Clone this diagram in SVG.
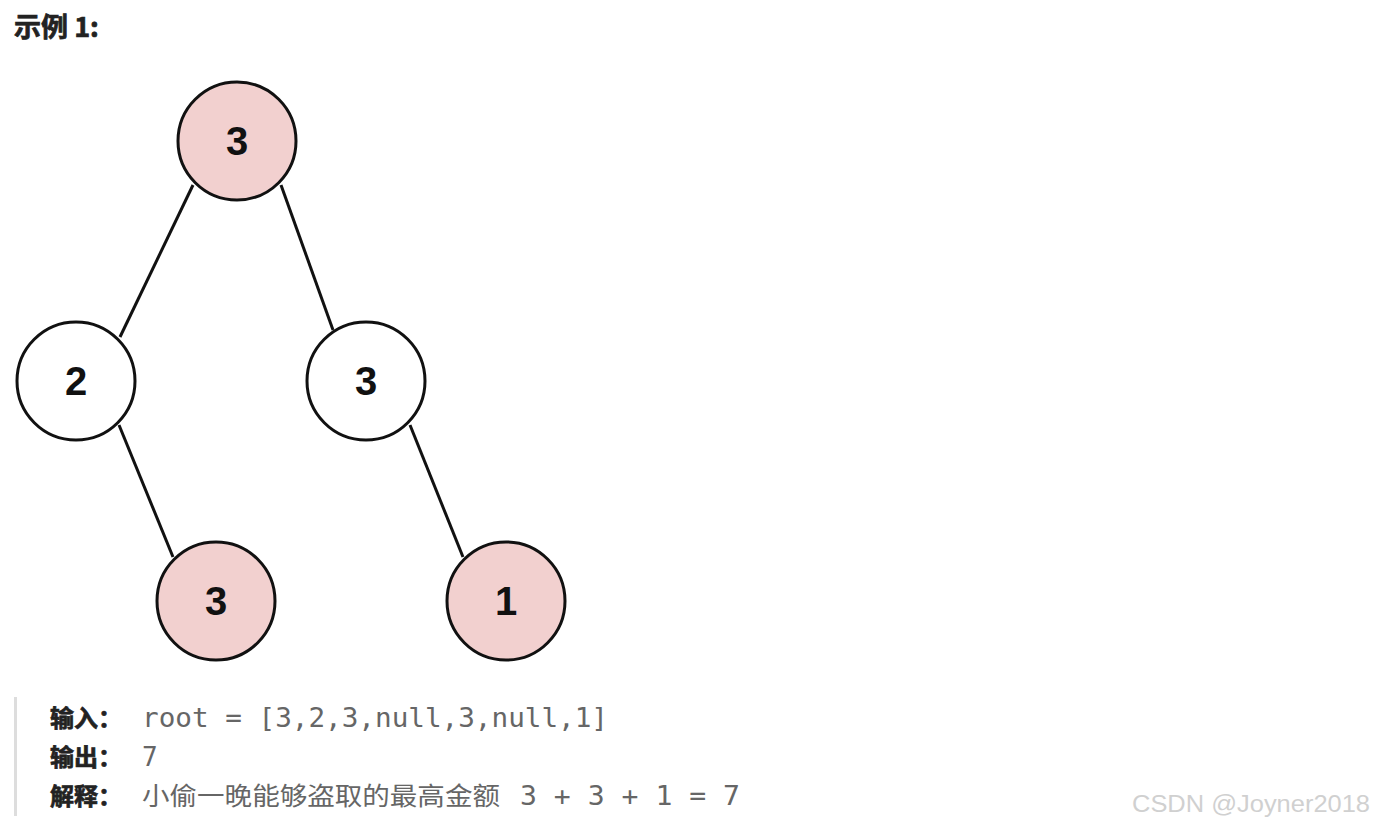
<svg xmlns="http://www.w3.org/2000/svg" width="1374" height="830" viewBox="0 0 1374 830">
<style>
.node circle{stroke:#111;stroke-width:3}
.pink{fill:#f2d0cf}
.white{fill:#fff}
.node text{font-family:"Liberation Sans",Arial,sans-serif;font-weight:bold;font-size:40px;fill:#111;text-anchor:middle}
.edge{stroke:#111;stroke-width:3;fill:none}
.lbl{font-family:"Noto Sans CJK SC",sans-serif;font-weight:bold;font-size:24px;fill:#222;stroke:#222;stroke-width:0.7}
.mono{font-family:"DejaVu Sans Mono","Liberation Mono","Noto Sans CJK SC",monospace;font-size:26px;fill:#666}
.cjk{font-family:"Noto Sans CJK SC",sans-serif;font-size:25px;fill:#666}
</style>
<rect width="1374" height="830" fill="#fff"/>
<text x="14" y="37" class="lbl" style="font-size:27px">示例 1:</text>
<g id="connectors">
<line class="edge" x1="193" y1="185" x2="120" y2="337"/>
<line class="edge" x1="281" y1="185" x2="333" y2="330"/>
<line class="edge" x1="119" y1="425" x2="173" y2="557"/>
<line class="edge" x1="410" y1="425" x2="463" y2="557"/>
</g>
<g id="n_root" class="node"><circle class="pink" cx="237" cy="141" r="59"/><text x="237" y="155">3</text></g>
<g id="n_2" class="node"><circle class="white" cx="76" cy="381" r="59"/><text x="76" y="395">2</text></g>
<g id="n_3r" class="node"><circle class="white" cx="366" cy="381" r="59"/><text x="366" y="395">3</text></g>
<g id="n_3b" class="node"><circle class="pink" cx="216" cy="601" r="59"/><text x="216" y="615">3</text></g>
<g id="n_1" class="node"><circle class="pink" cx="506" cy="601" r="59"/><text x="506" y="615">1</text></g>
<rect x="14" y="697" width="3" height="119" fill="#ddd"/>
<text x="50" y="727" class="lbl">输入：</text>
<text x="142" y="727" class="mono" textLength="466" lengthAdjust="spacingAndGlyphs">root = [3,2,3,null,3,null,1]</text>
<text x="50" y="766" class="lbl">输出：</text>
<text x="142" y="766" class="mono">7</text>
<text x="50" y="805" class="lbl">解释：</text>
<text x="142" y="805" class="cjk" textLength="358" lengthAdjust="spacingAndGlyphs">小偷一晚能够盗取的最高金额</text>
<text x="520" y="805" class="mono" textLength="220" lengthAdjust="spacingAndGlyphs">3 + 3 + 1 = 7</text>
<text x="1132" y="812" font-family="Liberation Sans,Arial,sans-serif" font-size="23" fill="#d0d0d0" textLength="238" lengthAdjust="spacingAndGlyphs">CSDN @Joyner2018</text>
</svg>
